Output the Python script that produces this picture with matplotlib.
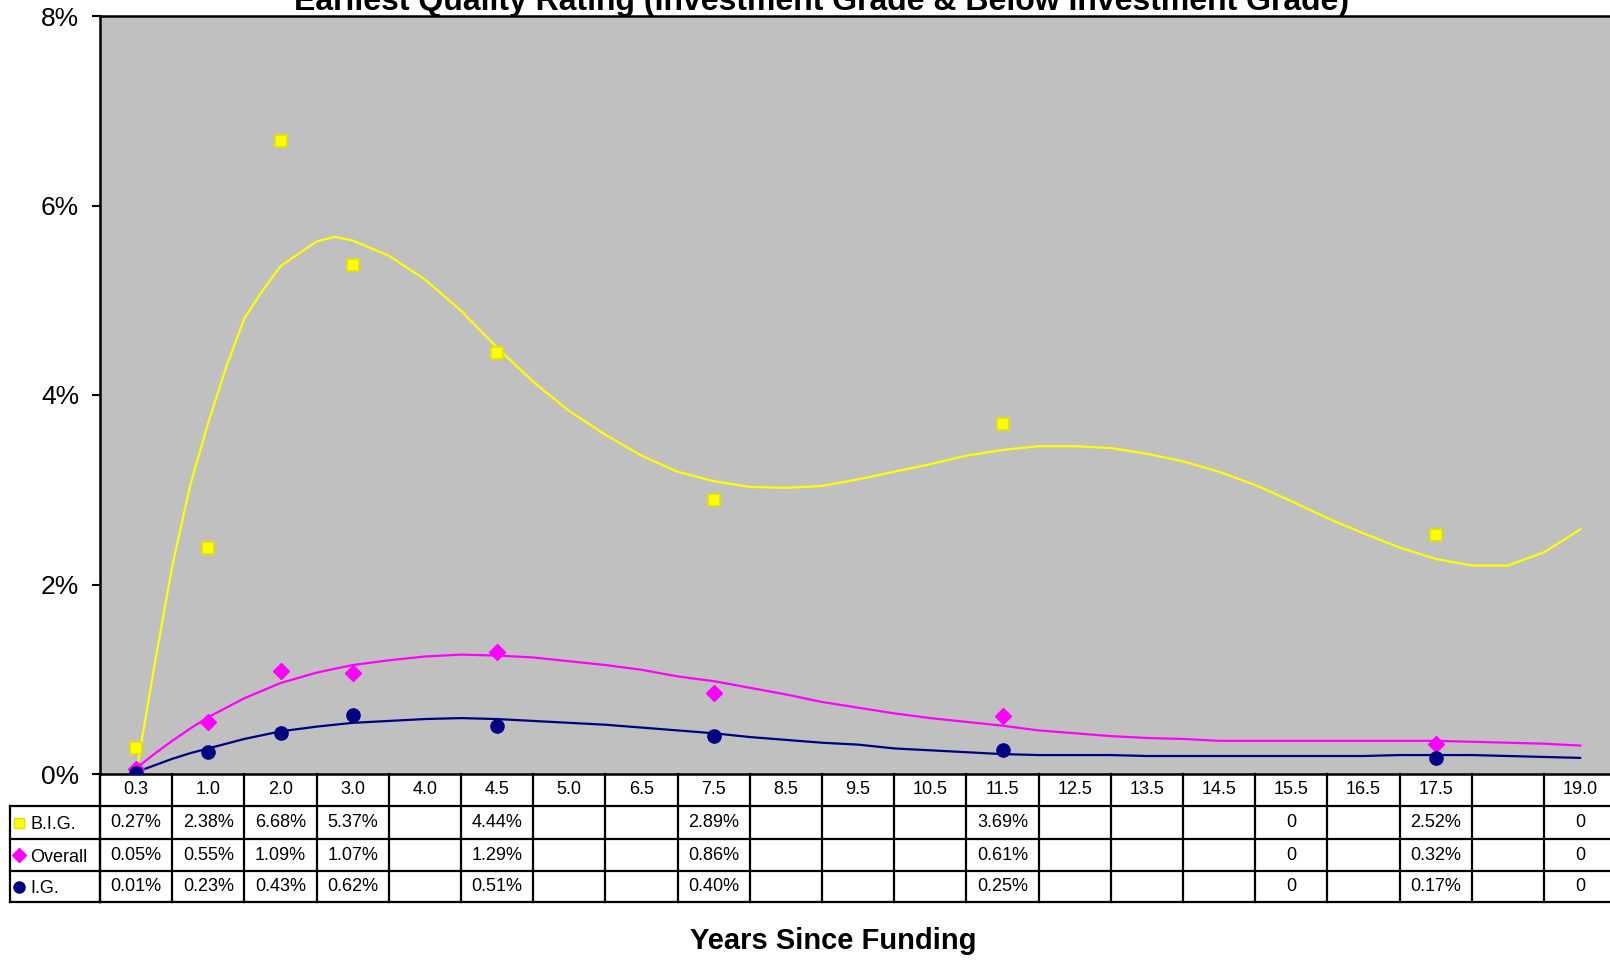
import matplotlib
matplotlib.use("Agg")
import matplotlib.pyplot as plt
from matplotlib.transforms import blended_transform_factory

plt.rcParams["font.family"] = ["Liberation Sans", "DejaVu Sans"]

# category labels (x axis of the Excel line chart); one column is unlabeled
years = ["0.3", "1.0", "2.0", "3.0", "4.0", "4.5", "5.0", "6.5", "7.5", "8.5", "9.5",
         "10.5", "11.5", "12.5", "13.5", "14.5", "15.5", "16.5", "17.5", "", "19.0"]

# values in percent; None = empty cell, "0" = text cell (shown in table, not plotted)
big = [0.27, 2.38, 6.68, 5.37, None, 4.44, None, None, 2.89, None, None,
       None, 3.69, None, None, None, "0", None, 2.52, None, "0"]
overall = [0.05, 0.55, 1.09, 1.07, None, 1.29, None, None, 0.86, None, None,
           None, 0.61, None, None, None, "0", None, 0.32, None, "0"]
ig = [0.01, 0.23, 0.43, 0.62, None, 0.51, None, None, 0.40, None, None,
      None, 0.25, None, None, None, "0", None, 0.17, None, "0"]

# trendlines, at category positions (1 = "0.3" ... 21 = "19.0")
trend_x = [1, 1.25, 1.5, 1.75, 2, 2.25, 2.5, 2.75, 3,
           3.5, 3.75, 4, 4.5, 5, 5.5, 6, 6.5, 7, 7.5, 8, 8.5, 9, 9.5, 10, 10.5, 11, 11.5,
           12, 12.5, 13, 13.5, 14, 14.5, 15, 15.5, 16, 16.5, 17, 17.5, 18, 18.5,
           19, 19.5, 20, 20.5, 21]
big_trend = [0.00, 1.13, 2.19, 3.05, 3.71, 4.30, 4.81, 5.10, 5.36,
             5.62, 5.67, 5.63, 5.47, 5.22, 4.89, 4.50, 4.14, 3.83, 3.58, 3.36, 3.19, 3.09,
             3.03, 3.02, 3.04, 3.11, 3.19, 3.27, 3.36, 3.42, 3.46, 3.46, 3.44, 3.38,
             3.30, 3.19, 3.05, 2.88, 2.70, 2.54, 2.39, 2.27, 2.20, 2.20, 2.34, 2.58]
overall_trend = [0.06, 0.21, 0.35, 0.48, 0.60, 0.70, 0.80, 0.88, 0.96,
                 1.07, 1.11, 1.15, 1.20, 1.24, 1.26, 1.25, 1.23, 1.19, 1.15, 1.10, 1.03, 0.98,
                 0.91, 0.84, 0.76, 0.70, 0.64, 0.59, 0.55, 0.51, 0.46, 0.43, 0.40, 0.38,
                 0.37, 0.35, 0.35, 0.35, 0.35, 0.35, 0.35, 0.35, 0.34, 0.33, 0.32, 0.30]
ig_trend = [0.02, 0.09, 0.16, 0.22, 0.27, 0.32, 0.37, 0.41, 0.45,
            0.50, 0.52, 0.54, 0.56, 0.58, 0.59, 0.58, 0.56, 0.54, 0.52, 0.49, 0.46, 0.43,
            0.39, 0.36, 0.33, 0.31, 0.27, 0.25, 0.23, 0.21, 0.20, 0.20, 0.20, 0.19,
            0.19, 0.19, 0.19, 0.19, 0.19, 0.19, 0.20, 0.20, 0.20, 0.19, 0.18, 0.17]

series_names = ["B.I.G.", "Overall", "I.G."]
colors = ["#FFFF00", "#FF00FF", "#000080"]
markers = ["s", "D", "o"]
marker_sizes = [8, 8, 9.5]

W, H = 1610, 960
fig = plt.figure(figsize=(W / 100, H / 100), dpi=100)

n = len(years)
col_w = 72.2
ax_left, ax_top, ax_bottom = 100, 16, 774
ax = fig.add_axes([ax_left / W, 1 - ax_bottom / H, n * col_w / W, (ax_bottom - ax_top) / H])
ax.set_facecolor("#C0C0C0")
ax.set_xlim(0.5, n + 0.5)
ax.set_ylim(0, 8)

xs = list(range(1, n + 1))
for vals, trend, color, mk, ms in zip([big, overall, ig], [big_trend, overall_trend, ig_trend],
                                      colors, markers, marker_sizes):
    ax.plot(trend_x, trend, color=color, lw=1.6, zorder=2)
    px = [x for x, v in zip(xs, vals) if isinstance(v, float)]
    py = [v for v in vals if isinstance(v, float)]
    if mk == "s":
        ax.plot(px, py, ls="none", marker=mk, ms=ms, mfc=color, mec="#E0E000", mew=1.2, zorder=3)
    else:
        ax.plot(px, py, ls="none", marker=mk, ms=ms, color=color, zorder=3)

ax.set_yticks(range(0, 9, 2))
ax.set_yticklabels([f"{v}%" for v in range(0, 9, 2)], fontsize=19)
ax.tick_params(axis="y", length=6, width=1.5, pad=9, direction="out")
ax.set_xticks([])
for side in ["left", "top", "bottom"]:
    ax.spines[side].set_linewidth(1.8)
ax.spines["right"].set_visible(False)

fig.text(822 / W, 1 - 10 / H,
         "Earliest Quality Rating (Investment Grade & Below Investment Grade)",
         ha="center", va="baseline", fontsize=23, fontweight="bold")
fig.text(833 / W, 1 - 941 / H, "Years Since Funding",
         ha="center", va="center", fontsize=21, fontweight="bold")

# --- data table under the plot ---
trans = blended_transform_factory(ax.transData, fig.transFigure)
rows_y = [774, 806, 839, 871, 902]  # pixel rows: header, B.I.G., Overall, I.G.
fy = lambda p: 1 - p / H
lw = 1.6

for k in range(n + 1):
    ax.plot([k + 0.5, k + 0.5], [fy(rows_y[0]), fy(rows_y[-1])], color="black",
            lw=lw, transform=trans, clip_on=False)
for r in rows_y[1:]:
    fig.add_artist(plt.Line2D([10 / W, ax_left / W], [fy(r), fy(r)], color="black", lw=lw))
    ax.plot([0.5, n + 0.5], [fy(r), fy(r)], color="black", lw=lw,
            transform=trans, clip_on=False)
fig.add_artist(plt.Line2D([10 / W, 10 / W], [fy(rows_y[1]), fy(rows_y[-1])], color="black", lw=lw))
fig.add_artist(plt.Line2D([ax_left / W, ax_left / W], [fy(rows_y[0]), fy(rows_y[-1])], color="black", lw=lw))

yc = lambda i: fy((rows_y[i] + rows_y[i + 1]) / 2)
for k, lab in enumerate(years):
    ax.text(k + 1, yc(0), lab, transform=trans, ha="center", va="center", fontsize=13)

for i, (name, vals, color, mk) in enumerate(zip(series_names, [big, overall, ig], colors, markers)):
    key_ms = {"s": 6.5, "D": 7, "o": 8}[mk]
    fig.add_artist(plt.Line2D([19 / W], [yc(i + 1)], ls="none", marker=mk, ms=key_ms,
                              mfc=color, mec="#E0E000" if mk == "s" else color))
    fig.text(30 / W, yc(i + 1) - 2 / H, name, ha="left", va="center", fontsize=13)
    for k, v in enumerate(vals):
        if v is None:
            continue
        s = f"{v:.2f}%" if isinstance(v, float) else v
        ax.text(k + 1, yc(i + 1), s, transform=trans, ha="center", va="center", fontsize=13)

fig.savefig("out.png", dpi=100)
